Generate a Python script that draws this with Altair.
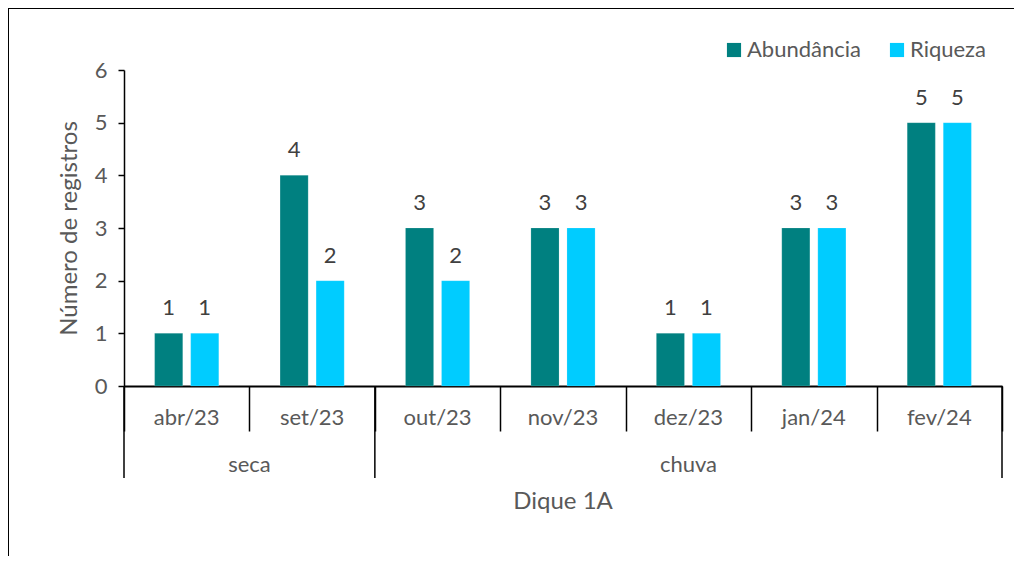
import altair as alt
import pandas as pd

months = ["abr/23", "set/23", "out/23", "nov/23", "dez/23", "jan/24", "fev/24"]
seasons = ["seca", "seca", "chuva", "chuva", "chuva", "chuva", "chuva"]
abundancia = [1, 4, 3, 3, 1, 3, 5]
riqueza = [1, 2, 2, 3, 1, 3, 5]
series_names = ["Abundância", "Riqueza"]
series_colors = ["#008080", "#00CCFF"]
x_title = "Dique 1A"
y_title = "Número de registros"

rows = []
for m, a, r in zip(months, abundancia, riqueza):
    rows.append({"month": m, "serie": series_names[0], "value": a})
    rows.append({"month": m, "serie": series_names[1], "value": r})
df = pd.DataFrame(rows)
month_df = pd.DataFrame({"month": months, "season": seasons})

W, H = 878, 316
FONT = "Lato"
GRAY = "#595959"
FS = 22

xscale = alt.Scale(domain=months, paddingInner=0, paddingOuter=0)
x_enc = alt.X("month:N", scale=xscale, sort=months,
              axis=alt.Axis(title=None, labels=False, tickBand="extent", tickSize=45,
                            tickColor="black", tickWidth=1.5, domainColor="black",
                            domainWidth=2, grid=False))

bars = alt.Chart(df).mark_bar(stroke="white", strokeOpacity=0.3, strokeWidth=0.5).encode(
    x=x_enc,
    xOffset=alt.XOffset("serie:N", sort=series_names,
                        scale=alt.Scale(paddingInner=0.22, paddingOuter=0.85)),
    y=alt.Y("value:Q", scale=alt.Scale(domain=[0, 6], nice=False),
            axis=alt.Axis(title=y_title, values=[0, 1, 2, 3, 4, 5, 6], grid=False,
                          tickColor="black", tickSize=6, tickWidth=1.5,
                          domainColor="black", domainWidth=1.5,
                          labelFont=FONT, labelFontSize=FS, labelColor=GRAY, labelPadding=11,
                          titleFont=FONT, titleFontSize=24, titleFontWeight="normal",
                          titleColor=GRAY, titlePadding=13)),
    color=alt.Color("serie:N", sort=series_names,
                    scale=alt.Scale(domain=series_names, range=series_colors),
                    legend=alt.Legend(title=None, orient="none", legendX=599, legendY=-31,
                                      direction="horizontal", symbolType="square",
                                      symbolSize=200, symbolStrokeWidth=0,
                                      labelFont=FONT, labelFontSize=FS, labelColor=GRAY,
                                      labelOffset=2, columnPadding=25, padding=0)),
)

labels = alt.Chart(df).mark_text(font=FONT, fontSize=FS, color="#404040",
                                 baseline="middle", dy=-25).encode(
    x=alt.X("month:N", scale=xscale, sort=months),
    xOffset=alt.XOffset("serie:N", sort=series_names),
    y=alt.Y("value:Q"),
    text=alt.Text("value:Q"),
)

month_text = alt.Chart(month_df).mark_text(font=FONT, fontSize=FS, color=GRAY,
                                           baseline="middle").encode(
    x=alt.X("month:N", scale=xscale, sort=months),
    y=alt.value(H + 32),
    text="month:N",
)

seca_df = pd.DataFrame({"month": [months[0]], "season": [seasons[0]]})
chuva_df = pd.DataFrame({"month": [months[4]], "season": [seasons[4]]})
seca_text = alt.Chart(seca_df).mark_text(font=FONT, fontSize=FS, color=GRAY,
                                         baseline="middle").encode(
    x=alt.X("month:N", scale=xscale, sort=months, bandPosition=1),
    y=alt.value(H + 79),
    text="season:N",
)
chuva_text = alt.Chart(chuva_df).mark_text(font=FONT, fontSize=FS, color=GRAY,
                                           baseline="middle").encode(
    x=alt.X("month:N", scale=xscale, sort=months, bandPosition=0.5),
    y=alt.value(H + 79),
    text="season:N",
)

start_df = pd.DataFrame({"month": [months[0], months[2]]})
end_df = pd.DataFrame({"month": [months[-1]]})
grp_start = alt.Chart(start_df).mark_rule(color="black", strokeWidth=1.5).encode(
    x=alt.X("month:N", scale=xscale, sort=months, bandPosition=0),
    y=alt.value(H), y2=alt.value(H + 92),
)
grp_end = alt.Chart(end_df).mark_rule(color="black", strokeWidth=1.5).encode(
    x=alt.X("month:N", scale=xscale, sort=months, bandPosition=1),
    y=alt.value(H), y2=alt.value(H + 92),
)

title_df = pd.DataFrame({"t": [x_title]})
title_text = alt.Chart(title_df).mark_text(font=FONT, fontSize=24, color=GRAY,
                                           baseline="middle").encode(
    x=alt.value(W / 2), y=alt.value(H + 116), text="t:N",
)

frame_top = alt.Chart(title_df).mark_rule(color="black", strokeWidth=2).encode(
    x=alt.value(-116), x2=alt.value(W + 12), y=alt.value(-62), y2=alt.value(-62),
)
frame_left = alt.Chart(title_df).mark_rule(color="black", strokeWidth=2).encode(
    x=alt.value(-116), x2=alt.value(-116), y=alt.value(-62), y2=alt.value(H + 200),
)

chart = alt.layer(bars, labels, month_text, seca_text, chuva_text, grp_start, grp_end,
                  title_text, frame_top, frame_left).properties(
    width=W, height=H,
    background="white",
    padding={"left": 116, "top": 62, "right": 12, "bottom": 170},
    autosize=alt.AutoSizeParams(type="none"),
).configure_view(stroke="transparent", strokeWidth=0)

chart.save("out.html", embed_options={"renderer": "svg", "actions": False})
